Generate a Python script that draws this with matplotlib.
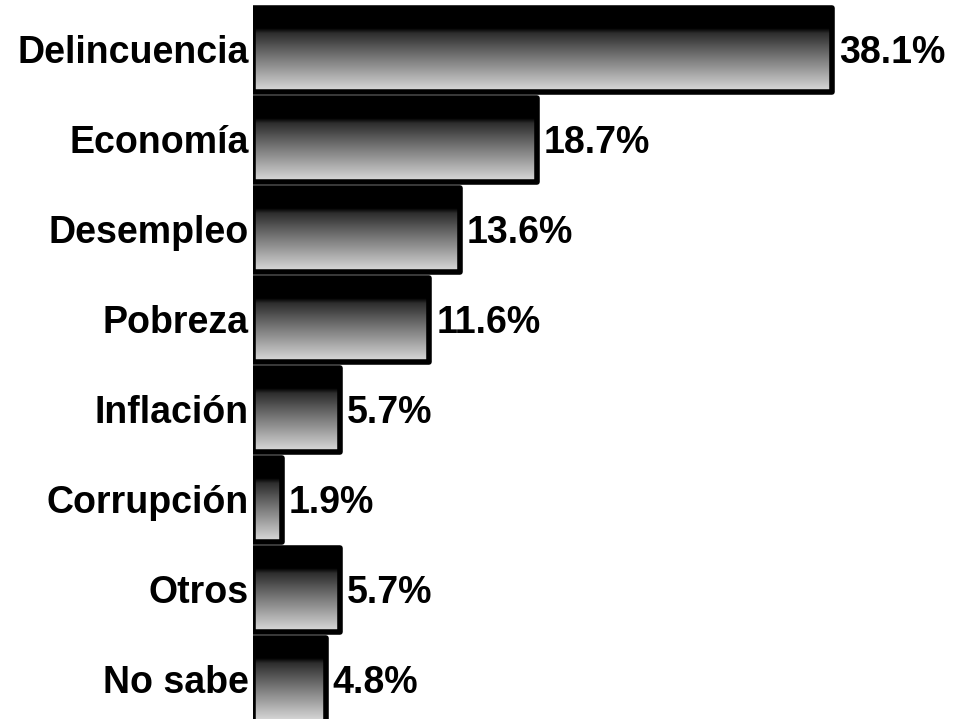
import numpy as np
import matplotlib.pyplot as plt
from matplotlib.patches import Rectangle
from matplotlib.colors import LinearSegmentedColormap

plt.rcParams['font.family'] = ['Liberation Sans', 'DejaVu Sans']

# Datos
categorias = ['Delincuencia', 'Economía', 'Desempleo', 'Pobreza',
              'Inflación', 'Corrupción', 'Otros', 'No sabe']
porcentajes = [38.1, 18.7, 13.6, 11.6, 5.7, 1.9, 5.7, 4.8]
etiquetas = ['38.1%', '18.7%', '13.6%', '11.6%', '5.7%', '1.9%', '5.7%', '4.8%']

fig = plt.figure(figsize=(9.56, 7.19), dpi=100)
ax = fig.add_axes([253 / 956, 0, 1 - 253 / 956, 1])
ax.axis('off')

# degradado vertical: banda negra arriba, luego gris oscuro a gris claro
cmap = LinearSegmentedColormap.from_list(
    'grad', [(0.0, '#000000'), (0.24, '#000000'), (0.30, '#2e2e2e'),
             (0.6, '#7a7a7a'), (1.0, '#dcdcdc')])
grad = np.linspace(0, 1, 256).reshape(-1, 1)

alto = 0.93
for i, (cat, val, lab) in enumerate(zip(categorias, porcentajes, etiquetas)):
    y0 = i - alto / 2
    ax.imshow(grad, cmap=cmap, aspect='auto', interpolation='bilinear',
              extent=(0, val, y0 + alto, y0), zorder=1)
    ax.add_patch(Rectangle((0, y0), val, alto, fill=False, edgecolor='black',
                           linewidth=4, zorder=2, joinstyle='round'))
    ax.text(-0.3, i + 0.03, cat, ha='right', va='center', fontsize=27,
            fontweight='bold', clip_on=False)
    ax.text(val + 0.45, i + 0.03, lab, ha='left', va='center', fontsize=27,
            fontweight='bold', clip_on=False)

ax.set_xlim(0, 703 / 15.2)
ax.set_ylim((719 - 50) / 90, -50 / 90)

plt.savefig('out.png', dpi=100, facecolor='white')
